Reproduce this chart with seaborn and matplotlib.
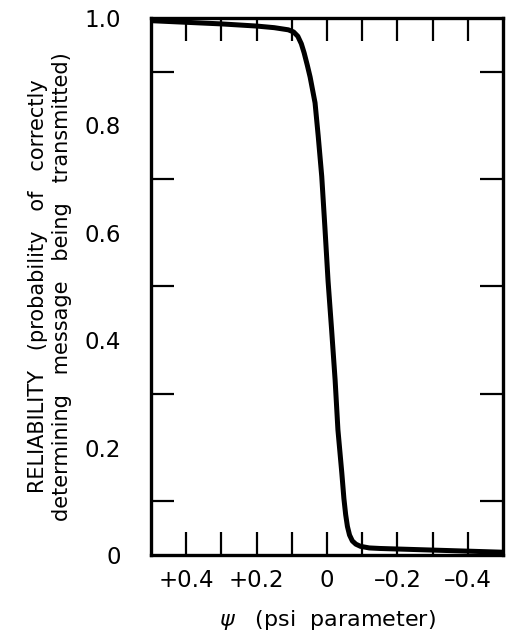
import matplotlib
matplotlib.use("Agg")
import matplotlib.pyplot as plt
import numpy as np
import pandas as pd
import seaborn as sns

# curve (x axis runs from +0.5 down to -0.5)
psi = [0.5, 0.4, 0.3, 0.2, 0.15, 0.11, 0.095, 0.083, 0.073, 0.065, 0.056,
       0.048, 0.034, 0.025, 0.015, 0.006, -0.003, -0.013, -0.023, -0.031,
       -0.042, -0.048, -0.053, -0.058, -0.064, -0.072, -0.082, -0.095,
       -0.12, -0.15, -0.25, -0.35, -0.5]
reliability = [0.995, 0.992, 0.989, 0.985, 0.982, 0.978, 0.974, 0.966, 0.952,
               0.935, 0.912, 0.89, 0.842, 0.78, 0.705, 0.61, 0.51, 0.42,
               0.326, 0.233, 0.153, 0.105, 0.075, 0.053, 0.037, 0.026, 0.02,
               0.016, 0.013, 0.012, 0.01, 0.008, 0.005]

x_ticks = [0.4, 0.3, 0.2, 0.1, 0.0, -0.1, -0.2, -0.3, -0.4]
x_labels = ["+0.4", "", "+0.2", "", "0", "", "\u20130.2", "", "\u20130.4"]
y_major = [0.0, 0.2, 0.4, 0.6, 0.8, 1.0]
y_labels = ["0", "0.2", "0.4", "0.6", "0.8", "1.0"]
y_minor = [0.1, 0.3, 0.5, 0.7, 0.9]

df = pd.DataFrame({"psi": psi, "rel": reliability})

sns.set_style("ticks")
plt.rcParams["font.family"] = ["DejaVu Sans"]
plt.rcParams["mathtext.fontset"] = "dejavusans"
for key in ["text.color", "axes.labelcolor", "xtick.color", "ytick.color",
            "axes.edgecolor"]:
    plt.rcParams[key] = "black"

fig = plt.figure(figsize=(5.07, 6.43), dpi=100)
ax = fig.add_axes([0.298, 0.137, 0.694, 0.835])

sns.lineplot(data=df, x="psi", y="rel", sort=False, color="black",
             linewidth=3.6, ax=ax, clip_on=False, solid_capstyle="butt",
             solid_joinstyle="round")

ax.set_xlim(0.5, -0.5)
ax.set_ylim(0, 1)

# x: a mark every tenth, labels on the even ones
ax.set_xticks(x_ticks)
ax.set_xticklabels(x_labels)
# y: labels on even values, marks on the odd tenths
ax.set_yticks(y_major)
ax.set_yticklabels(y_labels)
ax.set_yticks(y_minor, minor=True)

ax.tick_params(axis="x", which="major", direction="in", length=16.5,
               width=1.6, top=True, labelsize=16.5, pad=10)
ax.tick_params(axis="y", which="major", length=0, labelsize=16.5, pad=22)
ax.tick_params(axis="y", which="minor", direction="in", length=16.5,
               width=1.6, right=True)

for side in ax.spines.values():
    side.set_linewidth(2.4)

ax.set_xlabel("$\\psi$   (psi  parameter)", fontsize=16, labelpad=12)
ax.set_ylabel("RELIABILITY   (probability   of   correctly\n"
              "determining   message   being   transmitted)",
              fontsize=15, labelpad=9, linespacing=1.25)

fig.savefig("out.png", dpi=100)
